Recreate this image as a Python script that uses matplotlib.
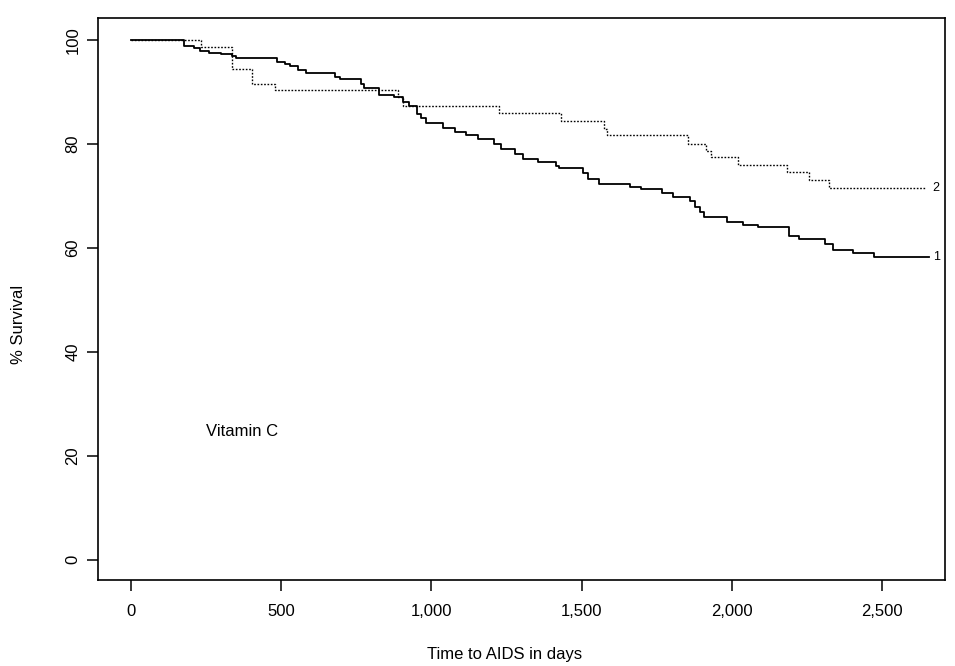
import matplotlib.pyplot as plt

plt.rcParams['font.family'] = ['Liberation Sans', 'DejaVu Sans']

# Kaplan-Meier curves: day each step starts, % surviving from then on
days_1 = [0, 177, 210, 230, 260, 300, 336, 350, 486, 514, 530, 557, 585, 680, 695,
          765, 776, 825, 875, 905, 925, 951, 965, 983, 1039, 1078, 1117, 1154, 1210,
          1232, 1277, 1304, 1354, 1415, 1426, 1504, 1521, 1557, 1662, 1696, 1767,
          1805, 1860, 1877, 1895, 1908, 1982, 2038, 2088, 2191, 2224, 2308, 2336,
          2403, 2472]
surv_1 = [100, 98.9, 98.5, 97.9, 97.5, 97.3, 96.9, 96.6, 95.9, 95.5, 95.0, 94.3, 93.7,
          92.9, 92.6, 91.5, 90.8, 89.5, 89.1, 88.1, 87.3, 85.8, 85.0, 84.1, 83.1, 82.4,
          81.7, 81.0, 80.0, 79.1, 78.2, 77.1, 76.6, 75.9, 75.5, 74.4, 73.4, 72.4, 71.7,
          71.3, 70.6, 69.9, 69.0, 67.9, 67.0, 66.0, 65.1, 64.5, 64.0, 62.3, 61.7, 60.8,
          59.7, 59.0, 58.2]
end_1 = 2655

days_2 = [0, 235, 336, 404, 480, 890, 905, 1226, 1431, 1575, 1586, 1854, 1913, 1930,
          2021, 2183, 2255, 2322]
surv_2 = [100, 98.8, 94.5, 91.6, 90.4, 89.0, 87.3, 86.0, 84.5, 83.0, 81.7, 80.1, 78.7,
          77.5, 76.0, 74.7, 73.2, 71.5]
end_2 = 2645

x_ticks = [0, 500, 1000, 1500, 2000, 2500]
x_tick_labels = ['0', '500', '1,000', '1,500', '2,000', '2,500']
y_ticks = [0, 20, 40, 60, 80, 100]

fig = plt.figure(figsize=(9.55, 6.66), dpi=100)
ax = fig.add_axes([0.103, 0.129, 0.887, 0.844])

ax.step(days_1 + [end_1], surv_1 + [surv_1[-1]], where='post', color='black', lw=1.3)
ax.step(days_2 + [end_2], surv_2 + [surv_2[-1]], where='post', color='black', lw=1.0,
        linestyle=(0, (1.2, 1.2)))

ax.text(end_1 + 15, surv_1[-1], '1', fontsize=9, va='center', ha='left')
ax.text(end_2 + 20, surv_2[-1], '2', fontsize=9, va='center', ha='left')
ax.text(250, 24.7, 'Vitamin C', fontsize=12, va='center', ha='left')

ax.set_xlim(-107, 2710)
ax.set_ylim(-3.9, 104.3)
ax.set_xticks(x_ticks)
ax.set_xticklabels(x_tick_labels)
ax.set_yticks(y_ticks)
ax.tick_params(direction='out', length=8, width=1.1, labelsize=12, color='black')
ax.tick_params(axis='x', pad=9)
ax.tick_params(axis='y', pad=5, labelrotation=90)
for lbl in ax.get_yticklabels():
    lbl.set_va('center')

for sp in ax.spines.values():
    sp.set_linewidth(1.2)

ax.set_xlabel('Time to AIDS in days', fontsize=12)
ax.xaxis.set_label_coords(0.48, -0.119)
ax.set_ylabel('% Survival', fontsize=12)
ax.yaxis.set_label_coords(-0.085, 0.454)

plt.savefig('out.png', dpi=100)
